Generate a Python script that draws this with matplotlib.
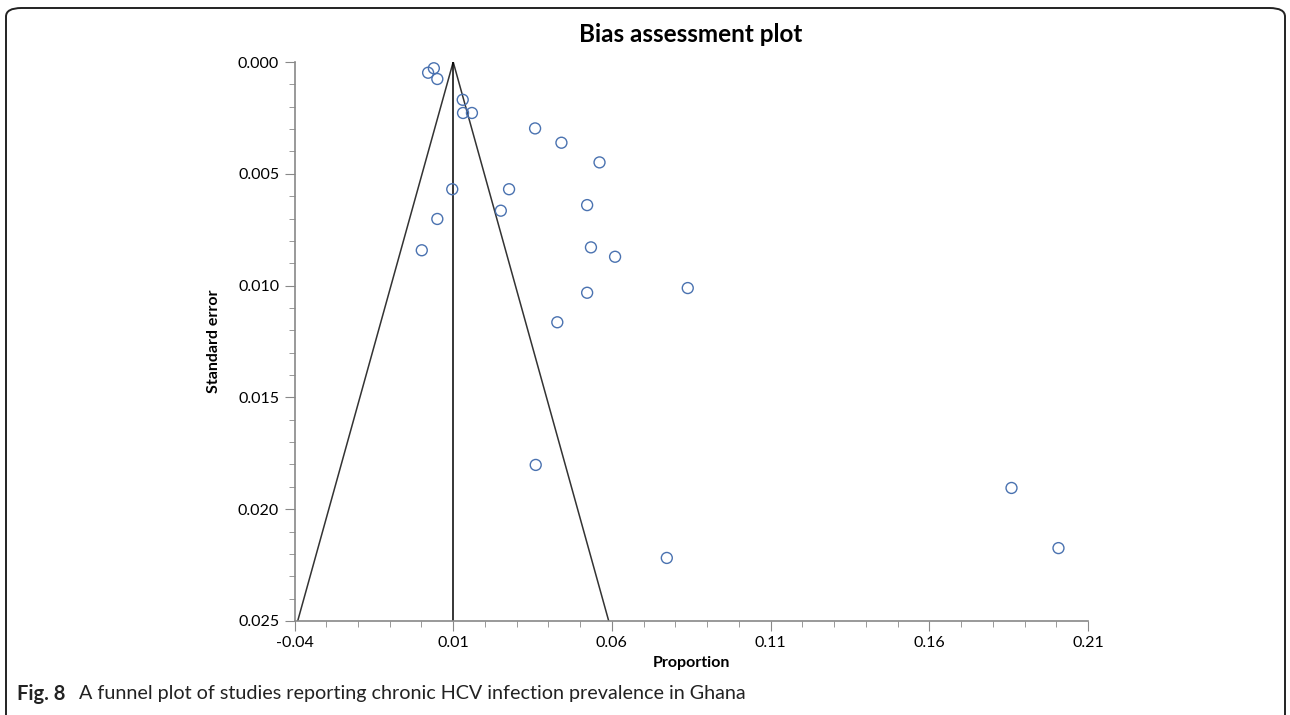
import numpy as np
import matplotlib
matplotlib.use("Agg")
import matplotlib.pyplot as plt
import matplotlib.ticker as ticker
from matplotlib.patches import FancyBboxPatch

# study estimates: prevalence proportion and its standard error
proportion = [0.0039, 0.0021, 0.0050, 0.0130, 0.0131, 0.0159, 0.0358, 0.0441,
              0.0561, 0.0097, 0.0276, 0.0522, 0.0250, 0.0050, 0.0534, 0.0001,
              0.0610, 0.0522, 0.0428, 0.0839, 0.0360, 0.1859, 0.0773, 0.2007]
std_error = [0.00028, 0.00048, 0.00076, 0.00169, 0.00228, 0.00228, 0.00297, 0.00361,
             0.00449, 0.00569, 0.00569, 0.00640, 0.00665, 0.00702, 0.00829, 0.00842,
             0.00871, 0.01032, 0.01164, 0.01011, 0.01802, 0.01905, 0.02218, 0.02174]
pooled = 0.01
se_max = 0.025
z = 1.96

title = "Bias assessment plot"
x_label = "Proportion"
y_label = "Standard error"

fig = plt.figure(figsize=(12.9, 7.15), dpi=100)
plt.rcParams['font.family'] = ['Lato', 'DejaVu Sans']

# rounded frame around the figure panel
frame = FancyBboxPatch((6 / 1290, -0.05), 1279 / 1290, 0.05 + (715 - 8) / 715,
                       boxstyle="round,pad=0,rounding_size=0.012",
                       transform=fig.transFigure, fill=False,
                       edgecolor="#222222", linewidth=1.4, clip_on=False)
fig.patches.append(frame)

ax = fig.add_axes([294.5 / 1290, 1 - 621 / 715, (1088 - 294.5) / 1290, (621 - 62) / 715])

# funnel and pooled estimate
se_line = np.array([0.0, se_max])
ax.plot(pooled - z * se_line, se_line, color="#333333", linewidth=1.1)
ax.plot(pooled + z * se_line, se_line, color="#333333", linewidth=1.1)
ax.plot([pooled, pooled], [0, se_max], color="black", linewidth=1.1)

ax.scatter(proportion, std_error, s=62, facecolors="none",
           edgecolors="#4a72b0", linewidths=1.0, zorder=3)

ax.set_xlim(-0.04, 0.21)
ax.set_ylim(se_max, 0)
ax.xaxis.set_major_locator(ticker.FixedLocator(np.arange(-0.04, 0.2101, 0.05)))
ax.xaxis.set_minor_locator(ticker.FixedLocator(np.arange(-0.04, 0.2101, 0.01)))
ax.yaxis.set_major_locator(ticker.MultipleLocator(0.005))
ax.yaxis.set_minor_locator(ticker.MultipleLocator(0.001))
ax.xaxis.set_major_formatter(ticker.FuncFormatter(lambda v, _: f"{v:.2f}"))
ax.yaxis.set_major_formatter(ticker.FuncFormatter(lambda v, _: f"{v:.3f}"))

for side in ("top", "right"):
    ax.spines[side].set_visible(False)
for side in ("left", "bottom"):
    ax.spines[side].set_color("#888888")
    ax.spines[side].set_linewidth(1.2)
ax.tick_params(which="major", length=7, color="#888888", labelsize=11.5, pad=4)
ax.tick_params(which="minor", length=4, color="#888888")

ax.set_xlabel(x_label, fontsize=11.5, fontweight="bold", labelpad=4)
ax.set_ylabel(y_label, fontsize=11.5, fontweight="bold", labelpad=12)
fig.text(691 / 1290, 1 - 35 / 715, title, ha="center", va="center",
         fontsize=17.5, fontweight="bold")

fig.text(17 / 1290, 1 - 694 / 715, "Fig. 8", ha="left", va="center",
         fontsize=14.5, fontweight="bold", color="#222222")
fig.text(79 / 1290, 1 - 694 / 715,
         "A funnel plot of studies reporting chronic HCV infection prevalence in Ghana",
         ha="left", va="center", fontsize=14.2, color="#222222")

fig.savefig("out.png", dpi=100)
